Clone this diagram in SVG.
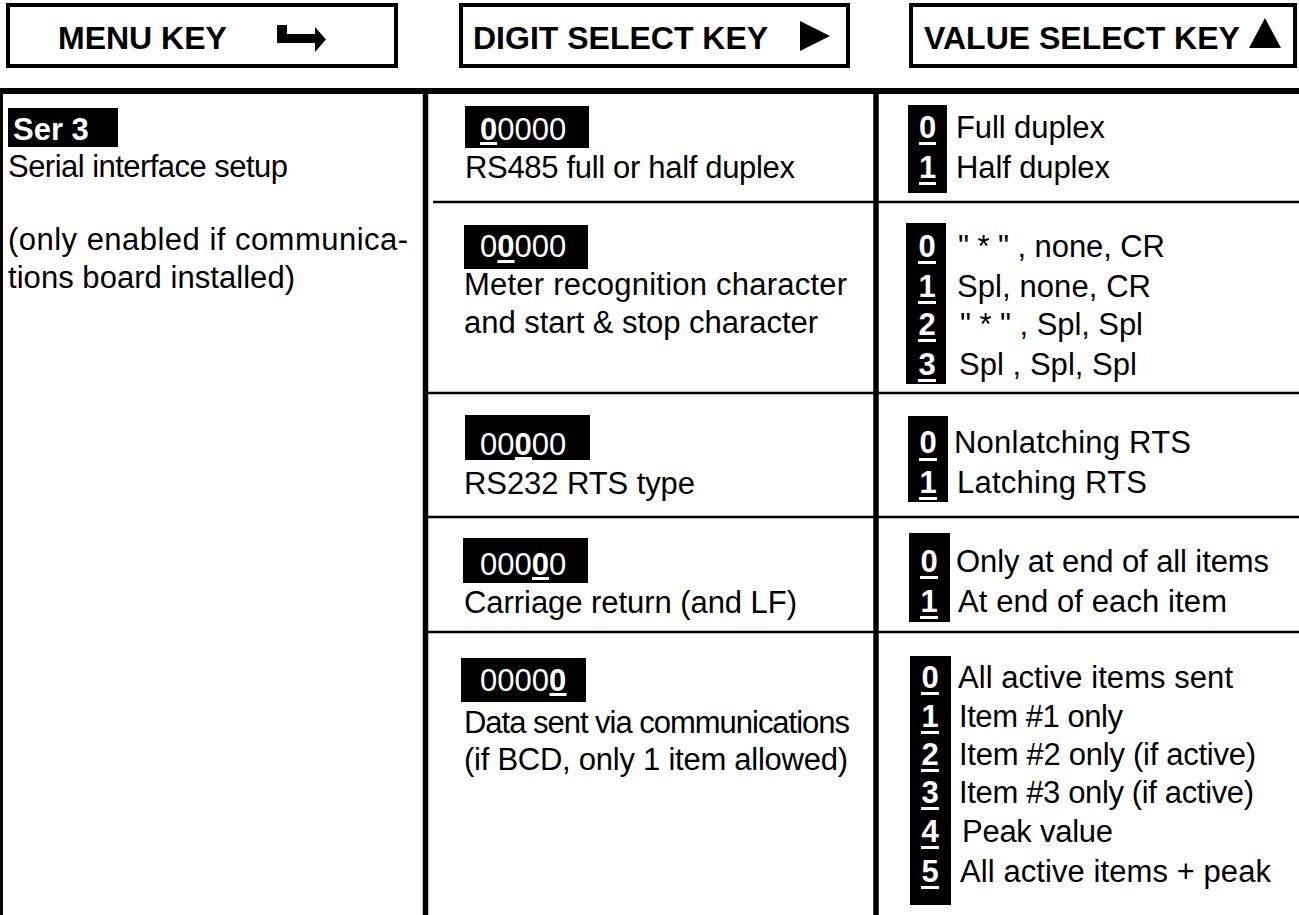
<svg xmlns="http://www.w3.org/2000/svg" width="1299" height="915" viewBox="0 0 1299 915">
<style>
text{font-family:"Liberation Sans",Arial,Helvetica,sans-serif;}
.h{font-size:32px;font-weight:bold;fill:#000}
.t{font-size:31px;fill:#000}
.d{font-size:31px;fill:#fff}
.b{font-weight:bold}
.v{font-size:31px;font-weight:bold;fill:#fff;text-anchor:middle}
.key{fill:none;stroke:#000;stroke-width:4}
.blk{fill:#000}
.ul{fill:#fff}
.thick{stroke:#000;stroke-width:5.5}
.thin{stroke:#000;stroke-width:2.5}
</style>
<rect width="1299" height="915" fill="#fff"/>

<g id="menu-key">
<rect class="key" x="8" y="5" width="388" height="61"/>
<text class="h" x="58" y="49">MENU KEY</text>
<path d="M277,25H287V34H315V27L326,39.5L315,52V43H277Z" fill="#000"/>
</g>
<g id="digit-key">
<rect class="key" x="461" y="5" width="387" height="61"/>
<text class="h" x="473" y="49">DIGIT SELECT KEY</text>
<polygon points="800,21 830,36 800,51" fill="#000"/>
</g>
<g id="value-key">
<rect class="key" x="911" y="5" width="384" height="61"/>
<text class="h" x="924" y="49">VALUE SELECT KEY</text>
<polygon points="1249,48 1265,18 1281,48" fill="#000"/>
</g>

<g id="grid">
<line x1="0" y1="91" x2="1299" y2="91" stroke="#000" stroke-width="6"/>
<line x1="1.5" y1="90" x2="1.5" y2="915" stroke="#000" stroke-width="3"/>
<line class="thick" x1="425.5" y1="88" x2="425.5" y2="915"/>
<line class="thick" x1="876" y1="88" x2="876" y2="915"/>
<line class="thin" x1="433" y1="202" x2="1299" y2="202"/>
<line class="thin" x1="428" y1="393" x2="1299" y2="393"/>
<line class="thin" x1="428" y1="517" x2="1299" y2="517"/>
<line class="thin" x1="428" y1="632" x2="1299" y2="632"/>
</g>

<g id="ser3">
<rect class="blk" x="8" y="108" width="110" height="39"/>
<text class="d b" x="13" y="140">Ser 3</text>
<text class="t" x="8" y="177" textLength="280" lengthAdjust="spacing">Serial interface setup</text>
<text class="t" x="8" y="250" textLength="400" lengthAdjust="spacing">(only enabled if communica-</text>
<text class="t" x="8" y="288" textLength="287" lengthAdjust="spacing">tions board installed)</text>
</g>

<g id="digit-1">
<rect class="blk" x="465" y="106" width="124" height="42"/>
<text class="d" x="480" y="140"><tspan class="b">0</tspan>0000</text>
<rect class="ul" x="480" y="142" width="17" height="3"/>
<text class="t" x="465" y="178" textLength="330" lengthAdjust="spacing">RS485 full or half duplex</text>
</g>
<g id="value-1">
<rect class="blk" x="908" y="105" width="39" height="88"/>
<text class="v" x="927.5" y="138">0</text><rect class="ul" x="919" y="142" width="17" height="3"/>
<text class="v" x="927.5" y="178">1</text><rect class="ul" x="919" y="182" width="17" height="3"/>
<text class="t" x="956" y="138" textLength="149" lengthAdjust="spacing">Full duplex</text>
<text class="t" x="956" y="178" textLength="154" lengthAdjust="spacing">Half duplex</text>
</g>

<g id="digit-2">
<rect class="blk" x="464" y="225" width="124" height="44"/>
<text class="d" x="480" y="257">0<tspan class="b">0</tspan>000</text>
<rect class="ul" x="497.5" y="260" width="17" height="3"/>
<text class="t" x="464" y="295" textLength="383" lengthAdjust="spacing">Meter recognition character</text>
<text class="t" x="464" y="333" textLength="354" lengthAdjust="spacing">and start &amp; stop character</text>
</g>
<g id="value-2">
<rect class="blk" x="906" y="223" width="40" height="161"/>
<text class="v" x="927" y="257">0</text><rect class="ul" x="918" y="261" width="18" height="3"/>
<text class="v" x="927" y="297">1</text><rect class="ul" x="918" y="301" width="18" height="3"/>
<text class="v" x="927" y="335">2</text><rect class="ul" x="918" y="339" width="18" height="3"/>
<text class="v" x="927" y="375">3</text><rect class="ul" x="918" y="379" width="18" height="3"/>
<text class="t" x="958" y="257" textLength="207" lengthAdjust="spacing">" * " , none, CR</text>
<text class="t" x="957" y="297" textLength="194" lengthAdjust="spacing">Spl, none, CR</text>
<text class="t" x="960" y="335" textLength="183" lengthAdjust="spacing">" * " , Spl, Spl</text>
<text class="t" x="959" y="375" textLength="178" lengthAdjust="spacing">Spl , Spl, Spl</text>
</g>

<g id="digit-3">
<rect class="blk" x="465" y="415" width="125" height="45"/>
<text class="d" x="480" y="455">00<tspan class="b">0</tspan>00</text>
<rect class="ul" x="515" y="457" width="17" height="3"/>
<text class="t" x="464" y="494" textLength="231" lengthAdjust="spacing">RS232 RTS type</text>
</g>
<g id="value-3">
<rect class="blk" x="908" y="416" width="40" height="86"/>
<text class="v" x="928" y="453">0</text><rect class="ul" x="919" y="458" width="18" height="3"/>
<text class="v" x="928" y="493">1</text><rect class="ul" x="919" y="497" width="18" height="3"/>
<text class="t" x="954" y="453" textLength="237" lengthAdjust="spacing">Nonlatching RTS</text>
<text class="t" x="957" y="493" textLength="190" lengthAdjust="spacing">Latching RTS</text>
</g>

<g id="digit-4">
<rect class="blk" x="463" y="538" width="125" height="45"/>
<text class="d" x="480" y="575">000<tspan class="b">0</tspan>0</text>
<rect class="ul" x="532" y="577" width="17" height="3"/>
<text class="t" x="464" y="613" textLength="333" lengthAdjust="spacing">Carriage return (and LF)</text>
</g>
<g id="value-4">
<rect class="blk" x="909" y="533" width="41" height="89"/>
<text class="v" x="929" y="572">0</text><rect class="ul" x="920" y="576" width="18" height="3"/>
<text class="v" x="929" y="612">1</text><rect class="ul" x="920" y="616" width="18" height="3"/>
<text class="t" x="956" y="572" textLength="313" lengthAdjust="spacing">Only at end of all items</text>
<text class="t" x="958" y="612" textLength="269" lengthAdjust="spacing">At end of each item</text>
</g>

<g id="digit-5">
<rect class="blk" x="461" y="658" width="125" height="44"/>
<text class="d" x="480" y="691">0000<tspan class="b">0</tspan></text>
<rect class="ul" x="549.5" y="693" width="17" height="3"/>
<text class="t" x="464" y="733" textLength="386" lengthAdjust="spacing">Data sent via communications</text>
<text class="t" x="464" y="770" textLength="384" lengthAdjust="spacing">(if BCD, only 1 item allowed)</text>
</g>
<g id="value-5">
<rect class="blk" x="910" y="656" width="41" height="249"/>
<text class="v" x="930" y="688">0</text><rect class="ul" x="921" y="692" width="18" height="3"/>
<text class="v" x="930" y="727">1</text><rect class="ul" x="921" y="731" width="18" height="3"/>
<text class="v" x="930" y="765">2</text><rect class="ul" x="921" y="769" width="18" height="3"/>
<text class="v" x="930" y="803">3</text><rect class="ul" x="921" y="807" width="18" height="3"/>
<text class="v" x="930" y="842">4</text><rect class="ul" x="921" y="846" width="18" height="3"/>
<text class="v" x="930" y="882">5</text><rect class="ul" x="921" y="886" width="18" height="3"/>
<text class="t" x="958" y="688" textLength="275" lengthAdjust="spacing">All active items sent</text>
<text class="t" x="959" y="727" textLength="164" lengthAdjust="spacing">Item #1 only</text>
<text class="t" x="959" y="765" textLength="297" lengthAdjust="spacing">Item #2 only (if active)</text>
<text class="t" x="959" y="803" textLength="295" lengthAdjust="spacing">Item #3 only (if active)</text>
<text class="t" x="962" y="842" textLength="151" lengthAdjust="spacing">Peak value</text>
<text class="t" x="960" y="882" textLength="311" lengthAdjust="spacing">All active items + peak</text>
</g>
</svg>
